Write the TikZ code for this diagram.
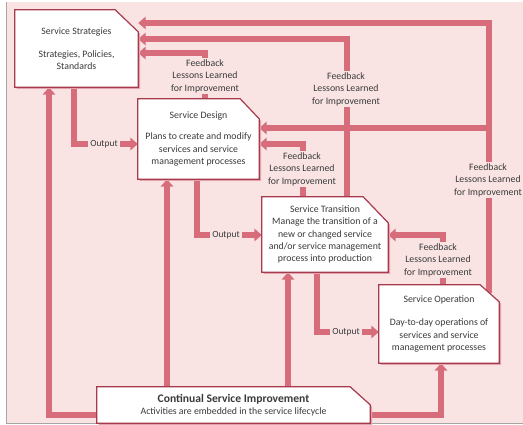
\documentclass[tikz,border=0pt]{standalone}
\usepackage{fontspec}
\setmainfont{Carlito}
\usetikzlibrary{arrows.meta,calc}
\definecolor{bgpink}{HTML}{F9E3E3}
\definecolor{connc}{HTML}{D76D7B}
\definecolor{boxedge}{HTML}{A83A4E}
\definecolor{shadowc}{HTML}{E3A3AC}
\definecolor{txt}{HTML}{3A3A3A}
\pgfdeclarelayer{bglayer}
\pgfdeclarelayer{linelayer}
\pgfdeclarelayer{boxlayer}
\pgfsetlayers{bglayer,linelayer,boxlayer,main}
\newcommand\mycutbox[3]{%
  \fill[shadowc] ([shift={(1.8pt,-1.8pt)}]#1.north west) -- ([shift={(1.8pt-#2,-1.8pt)}]#1.north east) -- ([shift={(1.8pt,-1.8pt-#3)}]#1.north east) -- ([shift={(1.8pt,-1.8pt)}]#1.south east) -- ([shift={(1.8pt,-1.8pt)}]#1.south west) -- cycle;
  \draw[boxline] (#1.north west) -- ([xshift=-#2]#1.north east) -- ([yshift=-#3]#1.north east) -- (#1.south east) -- (#1.south west) -- cycle;}
\begin{document}
\begin{tikzpicture}[x=1pt,y=-1pt,
  box/.style={inner sep=0pt, align=center, text=txt, font=\fontsize{9.8}{12.2}\selectfont},
  boxline/.style={draw=boxedge, line width=1.2pt, fill=white},
  conn/.style={draw=connc, line width=5.5pt, -{Triangle[width=12.5pt,length=7.5pt]}},
  fb/.style={fill=bgpink, inner sep=1.5pt, align=center, text=txt, font=\fontsize{9.8}{12.4}\selectfont},
  outl/.style={fill=bgpink, inner xsep=2.5pt, inner ysep=1pt, text=txt, font=\fontsize{9.4}{10}\selectfont}]
\useasboundingbox (0,0) rectangle (523,425);
\begin{pgfonlayer}{bglayer}
  \fill[white] (0,0) rectangle (523,425);
  \fill[bgpink] (6,2) rectangle (523,423);
  \draw[gray!70, line width=0.8pt] (6,2) -- (6,423) -- (523,423);
\end{pgfonlayer}
% boxes
\node[box, minimum width=123pt, minimum height=77pt] (SS) at (76.5,48.5)
  {Service Strategies\\[11pt]Strategies, Policies,\\Standards};
\node[box, minimum width=121pt, minimum height=80pt] (SD) at (198.5,139)
  {Service Design\\[9pt]Plans to create and modify\\services and service\\management processes};
\node[box, minimum width=126pt, minimum height=75pt] (ST) at (325,234.5)
  {Service Transition\\Manage the transition of a\\new or changed service\\and/or service management\\process into production};
\node[box, minimum width=120pt, minimum height=78pt] (SO) at (439,324)
  {Service Operation\\[11pt]Day-to-day operations of\\services and service\\management processes};
\node[box, minimum width=273pt, minimum height=36pt] (CSI) at (233.5,405)
  {{\fontsize{11.6}{12.5}\selectfont\bfseries Continual Service Improvement}\\Activities are embedded in the service lifecycle};
\begin{pgfonlayer}{boxlayer}
  \mycutbox{SS}{23pt}{22pt}
  \mycutbox{SD}{19pt}{20pt}
  \mycutbox{ST}{25pt}{26pt}
  \mycutbox{SO}{19pt}{17pt}
  \mycutbox{CSI}{20pt}{18pt}
\end{pgfonlayer}
% connectors
\coordinate (socut) at ($(SO.north east)+(-10,8)$);
\coordinate (jn) at (489,128);
\begin{pgfonlayer}{linelayer}
  \draw[conn] (socut) |- (SS.east |- 0,23);
  \draw[conn] (jn) -- (SD.east |- 0,128);
  \draw[conn] (ST.north -| 347,0) |- (SS.east |- 0,39);
  \draw[conn] (SD.north -| 205,0) |- (SS.east |- 0,53);
  \draw[conn] (ST.north -| 303,0) |- (SD.east |- 0,144);
  \draw[conn] (SO.north -| 443,0) |- (ST.east |- 0,235);
  \draw[conn] (SS.south -| 74,0) |- (SD.west |- 0,144);
  \draw[conn] (SD.south -| 197,0) |- (ST.west |- 0,235);
  \draw[conn] (ST.south -| 317,0) |- (SO.west |- 0,332);
  \draw[conn] (CSI.west |- 0,415) -| (SS.south -| 49,0);
  \draw[conn] (CSI.north -| 167,0) -- (SD.south -| 167,0);
  \draw[conn] (CSI.north -| 288,0) -- (ST.south -| 288,0);
  \draw[conn] (CSI.east |- 0,415) -| (SO.south -| 441,0);
\end{pgfonlayer}
% labels
\node[fb] (fb1) at (488,180) {Feedback\\Lessons Learned\\for Improvement};
\node[fb] (fb2) at (346,89) {Feedback\\Lessons Learned\\for Improvement};
\node[fb] (fb3) at (205,76) {Feedback\\Lessons Learned\\for Improvement};
\node[fb] (fb4) at (302,169) {Feedback\\Lessons Learned\\for Improvement};
\node[fb] (fb5) at (438,260) {Feedback\\Lessons Learned\\for Improvement};
\node[outl] (o1) at (104,144) {Output};
\node[outl] (o2) at (226,235) {Output};
\node[outl] (o3) at (346,332) {Output};
\end{tikzpicture}
\end{document}
